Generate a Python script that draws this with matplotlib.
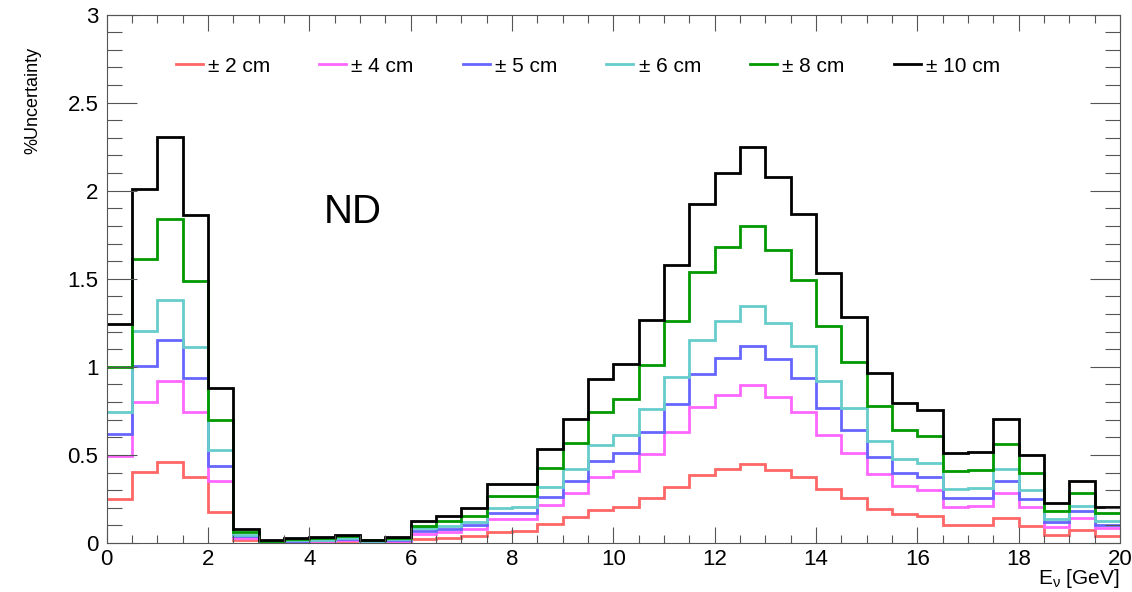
#!/usr/bin/env python3
"""
Incertidumbre (%) vs energía del neutrino en el ND para distintos
desplazamientos (±2 ... ±10 cm), estilo histograma ROOT.
"""

import numpy as np
import matplotlib
matplotlib.use("Agg")
import matplotlib.pyplot as plt
from matplotlib.ticker import MultipleLocator, FuncFormatter

OUTPUT_FIGURE = "out.png"

# Bordes de bins: 40 bins de 0.5 GeV entre 0 y 20 GeV
BIN_LOW = 0.0
BIN_HIGH = 20.0
N_BINS = 40

LABELS = ["± 2 cm", "± 4 cm", "± 5 cm", "± 6 cm", "± 8 cm", "± 10 cm"]
COLORS = ["#ff6666", "#ff66ff", "#6666ff", "#66cccc", "#009900", "#000000"]

unc_2cm = [0.252, 0.405, 0.462, 0.373, 0.174, 0.016, 0.003, 0.005, 0.006, 0.010,
           0.004, 0.007, 0.025, 0.030, 0.040, 0.065, 0.069, 0.108, 0.146, 0.188,
           0.205, 0.254, 0.316, 0.385, 0.419, 0.449, 0.415, 0.375, 0.309, 0.257,
           0.194, 0.162, 0.153, 0.104, 0.104, 0.140, 0.098, 0.045, 0.074, 0.041]
unc_4cm = [0.496, 0.803, 0.920, 0.744, 0.352, 0.031, 0.006, 0.010, 0.013, 0.019,
           0.007, 0.014, 0.051, 0.063, 0.079, 0.134, 0.138, 0.214, 0.286, 0.373,
           0.409, 0.506, 0.631, 0.773, 0.841, 0.898, 0.831, 0.746, 0.615, 0.513,
           0.390, 0.322, 0.303, 0.205, 0.210, 0.282, 0.203, 0.093, 0.140, 0.083]
unc_5cm = [0.621, 1.006, 1.150, 0.934, 0.438, 0.039, 0.008, 0.013, 0.016, 0.024,
           0.009, 0.017, 0.070, 0.080, 0.100, 0.168, 0.169, 0.263, 0.352, 0.466,
           0.511, 0.631, 0.790, 0.960, 1.051, 1.119, 1.042, 0.936, 0.769, 0.640,
           0.486, 0.400, 0.377, 0.258, 0.258, 0.352, 0.250, 0.117, 0.180, 0.102]
unc_6cm = [0.744, 1.206, 1.377, 1.114, 0.528, 0.047, 0.009, 0.016, 0.019, 0.029,
           0.011, 0.021, 0.083, 0.097, 0.118, 0.200, 0.202, 0.320, 0.420, 0.559,
           0.614, 0.760, 0.945, 1.153, 1.261, 1.347, 1.250, 1.119, 0.922, 0.769,
           0.580, 0.477, 0.453, 0.307, 0.311, 0.420, 0.301, 0.138, 0.212, 0.127]
unc_8cm = [0.998, 1.610, 1.841, 1.490, 0.699, 0.062, 0.012, 0.021, 0.026, 0.038,
           0.015, 0.028, 0.098, 0.125, 0.155, 0.265, 0.269, 0.426, 0.566, 0.745,
           0.816, 1.009, 1.261, 1.540, 1.682, 1.797, 1.665, 1.494, 1.229, 1.027,
           0.775, 0.640, 0.608, 0.407, 0.415, 0.561, 0.400, 0.184, 0.284, 0.169]
unc_10cm = [1.244, 2.011, 2.303, 1.862, 0.877, 0.079, 0.015, 0.026, 0.032, 0.048,
            0.019, 0.035, 0.123, 0.155, 0.200, 0.333, 0.337, 0.532, 0.703, 0.932,
            1.017, 1.267, 1.578, 1.922, 2.102, 2.248, 2.080, 1.869, 1.534, 1.281,
            0.967, 0.797, 0.756, 0.511, 0.517, 0.705, 0.500, 0.227, 0.354, 0.206]


def main():
    plt.rcParams["font.family"] = ["Liberation Sans", "DejaVu Sans"]
    plt.rcParams["mathtext.fontset"] = "custom"
    plt.rcParams["mathtext.rm"] = "Liberation Sans"
    plt.rcParams["mathtext.it"] = "Liberation Sans:italic"

    edges = np.linspace(BIN_LOW, BIN_HIGH, N_BINS + 1)
    series = [unc_2cm, unc_4cm, unc_5cm, unc_6cm, unc_8cm, unc_10cm]

    fig = plt.figure(figsize=(11.32, 5.92), dpi=100)
    ax = fig.add_axes([0.0943, 0.0828, 0.8951, 0.8927])

    for vals, color, label in zip(series, COLORS, LABELS):
        ax.stairs(vals, edges, baseline=None, color=color, linewidth=2.0,
                  label=label)

    ax.set_xlim(0, 20)
    ax.set_ylim(0, 3)

    # Ejes estilo ROOT: ticks hacia dentro en los cuatro lados
    ax.xaxis.set_major_locator(MultipleLocator(2))
    ax.xaxis.set_minor_locator(MultipleLocator(0.5))
    ax.yaxis.set_major_locator(MultipleLocator(0.5))
    ax.yaxis.set_minor_locator(MultipleLocator(0.1))
    ax.yaxis.set_major_formatter(FuncFormatter(lambda v, p: f"{v:g}"))
    ax.tick_params(axis="both", which="both", direction="in",
                   top=True, right=True, width=0.8, color="#555555",
                   labelsize=16)
    ax.tick_params(axis="x", which="major", length=11.5, pad=4)
    ax.tick_params(axis="x", which="minor", length=5.8)
    ax.tick_params(axis="y", which="major", length=21.5, pad=6)
    ax.tick_params(axis="y", which="minor", length=10.8)
    for spine in ax.spines.values():
        spine.set_linewidth(0.8)
        spine.set_color("#555555")

    fig.text(0.029, 1 - 47 / 592, "%Uncertainty", rotation=90,
             ha="center", va="top", fontsize=13)
    fig.text(1120 / 1132, 1 - 590 / 592, r"E$_{\mathrm{\nu}}$ [GeV]",
             ha="right", va="bottom", fontsize=15)

    ax.text(4.85, 1.877, "ND", ha="center", va="center", fontsize=29)

    ax.legend(loc="center left", bbox_to_anchor=(0.068, 0.9025), ncol=6,
              frameon=False, fontsize=15, handlelength=1.3,
              handletextpad=0.25, columnspacing=2.35, borderaxespad=0,
              borderpad=0)

    fig.savefig(OUTPUT_FIGURE, dpi=100)
    print(f"Figura guardada: {OUTPUT_FIGURE}")


if __name__ == "__main__":
    main()
